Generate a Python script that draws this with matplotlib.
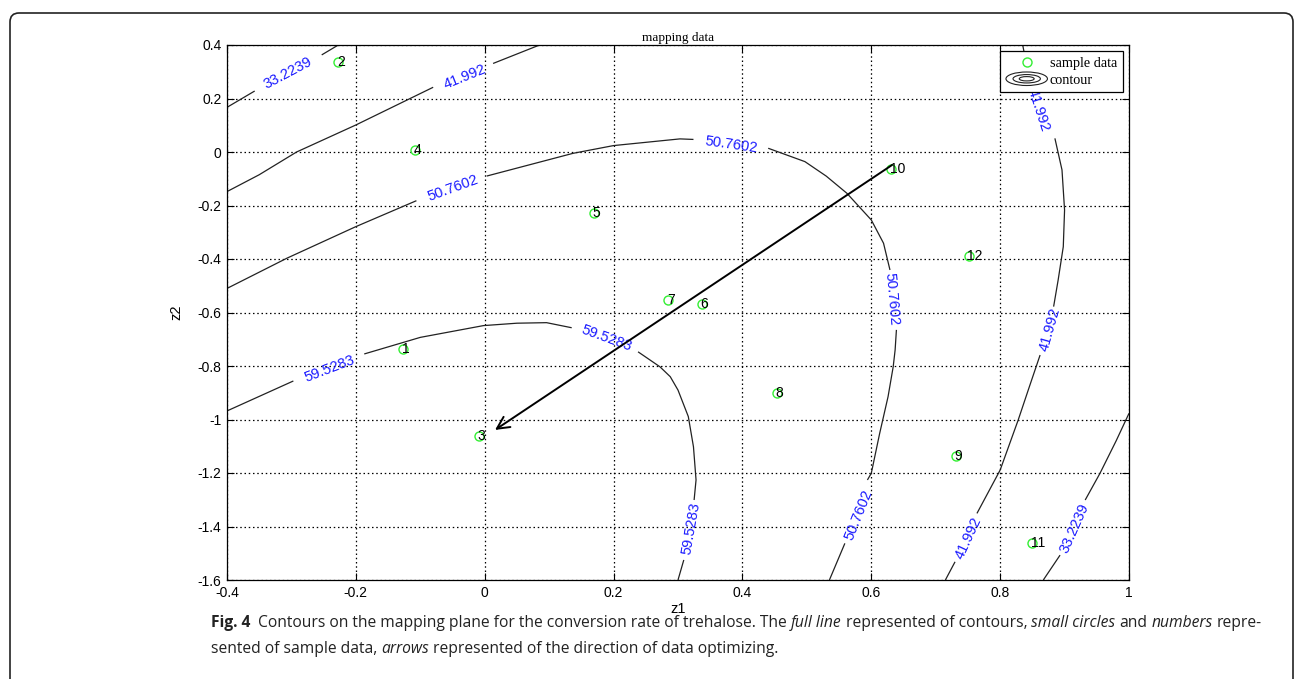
import matplotlib
matplotlib.use("Agg")
import matplotlib.pyplot as plt
from matplotlib.patches import Ellipse, FancyBboxPatch
from matplotlib.legend_handler import HandlerBase
from matplotlib.lines import Line2D

# ---------------- data ----------------
sample_ids = ["1", "2", "3", "4", "5", "6", "7", "8", "9", "10", "11", "12"]
sample_z1 = [-0.127, -0.227, -0.009, -0.108, 0.170, 0.337, 0.285, 0.453, 0.731, 0.631, 0.850, 0.751]
sample_z2 = [-0.736, 0.338, -1.062, 0.007, -0.227, -0.568, -0.553, -0.902, -1.136, -0.065, -1.463, -0.389]

# contour polylines (segments between labels)
c33_left = [
    [(-0.400, 0.167), (-0.357, 0.228)],
    [(-0.253, 0.363), (-0.230, 0.396), (-0.227, 0.400)],
]
c42_left = [
    [(-0.400, -0.148), (-0.350, -0.085), (-0.292, 0.000), (-0.200, 0.101), (-0.080, 0.242)],
    [(0.013, 0.331), (0.081, 0.396), (0.085, 0.400)],
]
c51 = [
    [(-0.400, -0.510), (-0.307, -0.397), (-0.200, -0.279), (-0.106, -0.182)],
    [(0.003, -0.090), (0.137, -0.005), (0.200, 0.024), (0.303, 0.049), (0.324, 0.047)],
    [(0.440, 0.014), (0.497, -0.036), (0.530, -0.090), (0.562, -0.154), (0.600, -0.254),
     (0.619, -0.341), (0.629, -0.441)],
    [(0.639, -0.665), (0.637, -0.740), (0.634, -0.803), (0.626, -0.915), (0.613, -1.052),
     (0.600, -1.201), (0.594, -1.226)],
    [(0.559, -1.463), (0.535, -1.600)],
]
c60 = [
    [(-0.400, -0.968), (-0.297, -0.856)],
    [(-0.187, -0.755), (-0.100, -0.693), (-0.002, -0.649), (0.050, -0.640), (0.096, -0.638),
     (0.135, -0.657)],
    [(0.238, -0.747), (0.272, -0.803), (0.288, -0.840), (0.300, -0.890), (0.316, -0.989),
     (0.324, -1.102), (0.328, -1.226), (0.325, -1.301)],
    [(0.309, -1.525), (0.300, -1.600)],
]
c42_right = [
    [(0.835, 0.400), (0.848, 0.240)],
    [(0.885, 0.051), (0.896, -0.067), (0.900, -0.217), (0.898, -0.354), (0.890, -0.479),
     (0.883, -0.578)],
    [(0.862, -0.759), (0.845, -0.880), (0.828, -1.002), (0.800, -1.189), (0.764, -1.351)],
    [(0.730, -1.532), (0.715, -1.600)],
]
c33_right = [
    [(1.000, -0.977), (0.980, -1.080), (0.955, -1.201), (0.932, -1.301)],
    [(0.893, -1.507), (0.867, -1.600)],
]
contour_lines = [c33_left, c42_left, c51, c60, c42_right, c33_right]

# contour labels: text, z1, z2, angle
label_text = ["33.2239", "41.992", "50.7602", "50.7602", "50.7602", "50.7602",
              "59.5283", "59.5283", "59.5283", "41.992", "41.992", "41.992", "33.2239"]
label_z1 = [-0.305, -0.031, -0.049, 0.383, 0.632, 0.580,
            -0.240, 0.189, 0.321, 0.860, 0.877, 0.751, 0.915]
label_z2 = [0.295, 0.282, -0.136, 0.026, -0.549, -1.357,
            -0.809, -0.697, -1.407, 0.156, -0.665, -1.444, -1.407]
label_angle = [28, 22, 20, -8, -85, 68, 21, -20, 80, -72, 74, 65, 66]

# optimization arrow (from sample 10 towards sample 3)
arrow_start = (0.632, -0.049)
arrow_end = (0.016, -1.039)

xticks = [-0.4, -0.2, 0, 0.2, 0.4, 0.6, 0.8, 1]
xticklabels = ["-0.4", "-0.2", "0", "0.2", "0.4", "0.6", "0.8", "1"]
yticks = [0.4, 0.2, 0, -0.2, -0.4, -0.6, -0.8, -1, -1.2, -1.4, -1.6]
yticklabels = ["0.4", "0.2", "0", "-0.2", "-0.4", "-0.6", "-0.8", "-1", "-1.2", "-1.4", "-1.6"]

caption_line1 = [("Fig. 4", "bold"),
                 ("Contours on the mapping plane for the conversion rate of trehalose. The", "normal"),
                 ("full line", "italic"), ("represented of contours,", "normal"),
                 ("small circles", "italic"), ("and", "normal"), ("numbers", "italic"),
                 ("repre-", "normal")]
caption_line2 = [("sented of sample data,", "normal"), ("arrows", "italic"),
                 ("represented of the direction of data optimizing.", "normal")]

# ---------------- figure ----------------
W, H = 1295, 679
fig = plt.figure(figsize=(W / 100, H / 100), dpi=100)
ax = fig.add_axes([227 / W, 1 - 580 / H, (1129 - 227) / W, (580 - 45) / H])

# outer rounded frame
frame = FancyBboxPatch((0.10, -0.5), 11.83 + 1.0, 6.66 + 0.5,
                       boxstyle="round,pad=0,rounding_size=0.09",
                       transform=fig.dpi_scale_trans, fill=False, ec="#222222", lw=1.2,
                       clip_on=False)
fig.patches.append(frame)

ax.set_xlim(-0.4, 1.0)
ax.set_ylim(-1.6, 0.4)

ax.grid(True, color="black", linestyle=(0, (1.2, 2.2)), linewidth=0.9)
ax.set_axisbelow(True)

for level in contour_lines:
    for seg in level:
        xs = [p[0] for p in seg]
        ys = [p[1] for p in seg]
        ax.plot(xs, ys, color="#222222", lw=0.9, zorder=2, solid_capstyle="butt")

for t, x, y, a in zip(label_text, label_z1, label_z2, label_angle):
    ax.text(x, y, t, rotation=a, rotation_mode="anchor", ha="center", va="center",
            color="#1a1aff", fontsize=10.5, family="Liberation Sans", zorder=3)

ax.plot(sample_z1, sample_z2, linestyle="none", marker="o", markersize=6.5,
        markerfacecolor="none", markeredgecolor="#33ee33", markeredgewidth=1.0, zorder=4)
for s, x, y in zip(sample_ids, sample_z1, sample_z2):
    ax.annotate(s, (x, y), xytext=(-1, 0), textcoords="offset points", ha="left",
                va="center", fontsize=10, family="Liberation Sans", color="black", zorder=4)

ax.annotate("", xy=arrow_end, xytext=arrow_start,
            arrowprops=dict(arrowstyle="->", color="black", lw=1.4, mutation_scale=22,
                            shrinkA=0, shrinkB=0), zorder=4)

ax.set_xticks(xticks)
ax.set_xticklabels(xticklabels)
ax.set_yticks(yticks)
ax.set_yticklabels(yticklabels)
ax.tick_params(direction="in", top=True, right=True, length=5, width=0.8,
               labelsize=10, pad=4)
for lab in ax.get_xticklabels() + ax.get_yticklabels():
    lab.set_family("Liberation Sans")
for sp in ax.spines.values():
    sp.set_linewidth(0.9)
    sp.set_color("black")

ax.set_xlabel("z1", family="Liberation Sans", fontsize=10.5, labelpad=2)
ax.set_ylabel("z2", family="Liberation Sans", fontsize=10.5, labelpad=10)
ax.set_title("mapping data", family="Liberation Serif", fontsize=9.5, pad=3)


# legend
class ContourIcon:
    pass


class HandlerContour(HandlerBase):
    def create_artists(self, legend, orig_handle, xdescent, ydescent, width, height,
                       fontsize, trans):
        cx = width / 2 - xdescent
        cy = height / 2 - ydescent
        arts = []
        for f, hf in ((1.0, 1.0), (0.66, 0.62), (0.36, 0.32)):
            e = Ellipse((cx, cy), width * f, height * 1.35 * hf, fill=False, ec="#222222",
                        lw=0.8, transform=trans)
            arts.append(e)
        return arts


h_sample = Line2D([], [], linestyle="none", marker="o", markersize=6.5,
                  markerfacecolor="none", markeredgecolor="#33ee33", markeredgewidth=1.0)
leg = ax.legend([h_sample, ContourIcon()], ["sample data", "contour"],
                handler_map={ContourIcon: HandlerContour()}, loc="upper right",
                prop={"family": "Liberation Serif", "size": 10.3}, fancybox=False,
                framealpha=1, edgecolor="black", handlelength=2.9, handletextpad=0.15,
                borderpad=0.4, labelspacing=0.25, borderaxespad=0.45)
leg.get_frame().set_linewidth(0.9)
leg.set_zorder(10)

# caption with mixed styles
fig.canvas.draw()
renderer = fig.canvas.get_renderer()
cap_family = "Open Sans"


def text_width(s, weight="normal", style="normal", size=10.0):
    t = fig.text(0, 0, s, fontsize=size, family=cap_family, weight=weight, style=style)
    w = t.get_window_extent(renderer).width
    t.remove()
    return w


def line_width(pieces, size):
    sp = text_width("x x", size=size) - text_width("xx", size=size)
    total = 0
    for i, (s, kind) in enumerate(pieces):
        total += text_width(s, weight="bold" if kind == "bold" else "normal",
                            style="italic" if kind == "italic" else "normal", size=size)
        if i < len(pieces) - 1:
            total += sp * (2 if kind == "bold" else 1)
    return total


base = 10.0
cap_size = base * (1263 - 211) / line_width(caption_line1, base)


def draw_line(pieces, x0, ybase):
    sp = text_width("x x", size=cap_size) - text_width("xx", size=cap_size)
    x = x0
    for i, (s, kind) in enumerate(pieces):
        wt = "bold" if kind == "bold" else "normal"
        st = "italic" if kind == "italic" else "normal"
        fig.text(x / W, 1 - ybase / H, s, fontsize=cap_size, family=cap_family, weight=wt,
                 style=st, va="baseline", ha="left", color="#222222")
        x += text_width(s, weight=wt, style=st, size=cap_size)
        x += sp * (2 if kind == "bold" else 1)


draw_line(caption_line1, 211, 627)
draw_line(caption_line2, 211, 653)

fig.savefig("out.png", dpi=100)
